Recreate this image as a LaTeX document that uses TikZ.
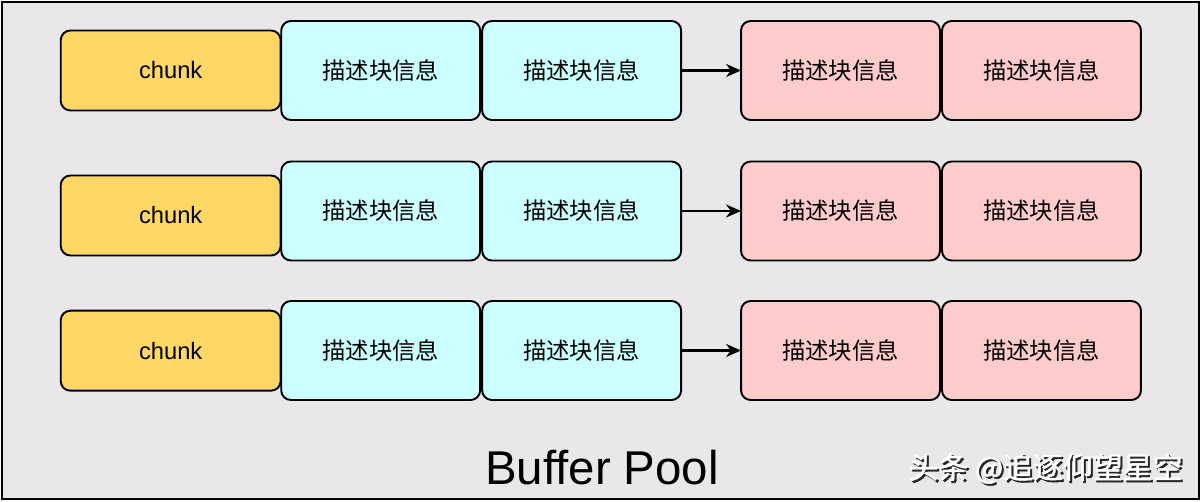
\documentclass[tikz,border=0pt]{standalone}
\usepackage{fontspec}
\setmainfont{Liberation Sans}
\newfontfamily\cjk{Noto Sans CJK SC}
\newfontfamily\cjkmark[FakeBold=1.5]{Noto Sans CJK SC}
\usetikzlibrary{arrows.meta,positioning}

\definecolor{poolbg}{HTML}{E9E7E9}
\definecolor{chunkfill}{HTML}{FED766}
\definecolor{infofill}{HTML}{CCFFFF}
\definecolor{freefill}{HTML}{FFCCCC}

\begin{document}
\begin{tikzpicture}[
  x=0.02cm, y=-0.02cm,
  font=\fontsize{13.5}{15}\selectfont,
  blk/.style={draw=black, line width=1.1pt, rounded corners=5.5pt, align=center,
              inner sep=0pt, outer sep=0pt},
  chunkbox/.style={blk, fill=chunkfill, minimum width=4.4cm, minimum height=1.6cm},
  infobox/.style={blk, fill=infofill, minimum width=3.98cm, minimum height=1.98cm,
                  font=\cjk\fontsize{13.3}{15}\selectfont},
  freebox/.style={infobox, fill=freefill},
  arr/.style={-{Stealth[length=3mm,width=2.6mm]}, draw=black, line width=1.2pt},
  markfont/.style={font=\cjkmark\fontsize{17}{20}\selectfont}
]
\useasboundingbox (0,0) rectangle (1202,502);
\draw[fill=poolbg, line width=1.6pt] (2,2) rectangle (1199,499);

\foreach \r/\y/\cy in {1/70.5/70.5,2/211/215.5,3/350.5/350.7}{
  \node[chunkbox] (chunk\r) at (170.7,\cy) {chunk};
  \node[infobox] (used\r a) at (380.7,\y) {描述块信息};
  \node[infobox, right=0.04cm of used\r a] (used\r b) {描述块信息};
  \node[freebox] (free\r a) at (840.5,\y) {描述块信息};
  \node[freebox, right=0.04cm of free\r a] (free\r b) {描述块信息};
  \draw[arr] (used\r b.east) -- (free\r a.west);
}

\node[font=\fontsize{27}{31}\selectfont] (pool) at (602,468) {Buffer Pool};
% watermark, white with a dark shadow
\node[markfont, text=black!85] (markshadow) at (1047.5,470.5) {头条 @追逐仰望星空};
\node[markfont, text=white] (mark) at (1045.5,468.5) {头条 @追逐仰望星空};
\end{tikzpicture}
\end{document}
